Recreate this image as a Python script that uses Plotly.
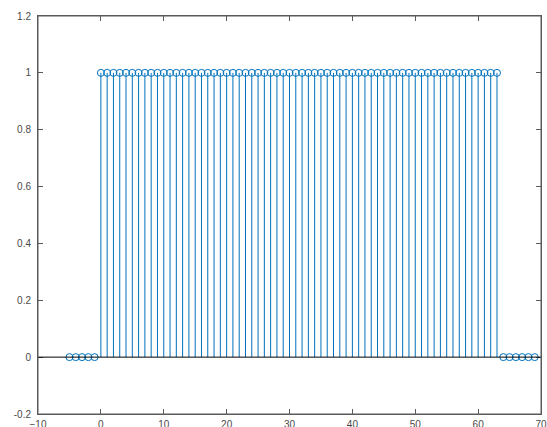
import plotly.graph_objects as go

n = [-5, -4, -3, -2, -1,
     0, 1, 2, 3, 4, 5, 6, 7, 8, 9, 10, 11, 12, 13, 14, 15, 16, 17, 18, 19,
     20, 21, 22, 23, 24, 25, 26, 27, 28, 29, 30, 31, 32, 33, 34, 35, 36, 37, 38, 39,
     40, 41, 42, 43, 44, 45, 46, 47, 48, 49, 50, 51, 52, 53, 54, 55, 56, 57, 58, 59,
     60, 61, 62, 63,
     64, 65, 66, 67, 68, 69]
values = [0, 0, 0, 0, 0,
          1, 1, 1, 1, 1, 1, 1, 1, 1, 1, 1, 1, 1, 1, 1, 1, 1, 1, 1, 1,
          1, 1, 1, 1, 1, 1, 1, 1, 1, 1, 1, 1, 1, 1, 1, 1, 1, 1, 1, 1,
          1, 1, 1, 1, 1, 1, 1, 1, 1, 1, 1, 1, 1, 1, 1, 1, 1, 1, 1, 1,
          1, 1, 1, 1,
          0, 0, 0, 0, 0, 0]
x_ticks = [-10, 0, 10, 20, 30, 40, 50, 60, 70]
y_ticks = [-0.2, 0, 0.2, 0.4, 0.6, 0.8, 1, 1.2]
y_tick_labels = ["-0.2", "0", "0.2", "0.4", "0.6", "0.8", "1", "1.2"]

stem_color = "#0072BD"
axis_color = "#5a5a5a"

# Build stem segments
sx, sy = [], []
for xi, yi in zip(n, values):
    sx += [xi, xi, None]
    sy += [0, yi, None]

fig = go.Figure()
fig.add_trace(go.Scatter(x=sx, y=sy, mode="lines",
                         line=dict(color=stem_color, width=1),
                         hoverinfo="skip", showlegend=False))
fig.add_trace(go.Scatter(x=n, y=values, mode="markers",
                         marker=dict(symbol="circle-open", size=7,
                                     color=stem_color, line=dict(width=1, color=stem_color)),
                         showlegend=False, cliponaxis=False))

# baseline
fig.add_shape(type="line", xref="paper", x0=0, x1=1, yref="y", y0=0, y1=0,
              line=dict(color="black", width=1), layer="above")
# frame
fig.add_shape(type="rect", xref="paper", x0=0, x1=1, yref="paper", y0=0, y1=1,
              line=dict(color=axis_color, width=1), layer="above")

fig.update_layout(
    width=547, height=427,
    margin=dict(l=38, r=6, t=16, b=13, autoexpand=False),
    paper_bgcolor="white", plot_bgcolor="white",
    font=dict(family="Liberation Sans, Arial, sans-serif", size=10, color="#4a4a4a"),
    xaxis=dict(range=[-10, 70], tickvals=x_ticks, ticks="inside", ticklen=5,
               tickcolor=axis_color, showline=True, linecolor=axis_color, linewidth=1,
               mirror="ticks", showgrid=False, zeroline=False, ticklabelstandoff=1,
               ticklabeloverflow="allow", automargin=False),
    yaxis=dict(range=[-0.2, 1.2], tickvals=y_ticks, ticktext=y_tick_labels,
               ticks="inside", ticklen=5,
               tickcolor=axis_color, showline=True, linecolor=axis_color, linewidth=1,
               mirror="ticks", showgrid=False, zeroline=False, ticklabelstandoff=4,
               ticklabeloverflow="allow", automargin=False),
)

fig.write_html("out.html",
               config={"displayModeBar": False},
               post_script="document.body.style.margin='0';document.body.style.overflow='hidden';")
